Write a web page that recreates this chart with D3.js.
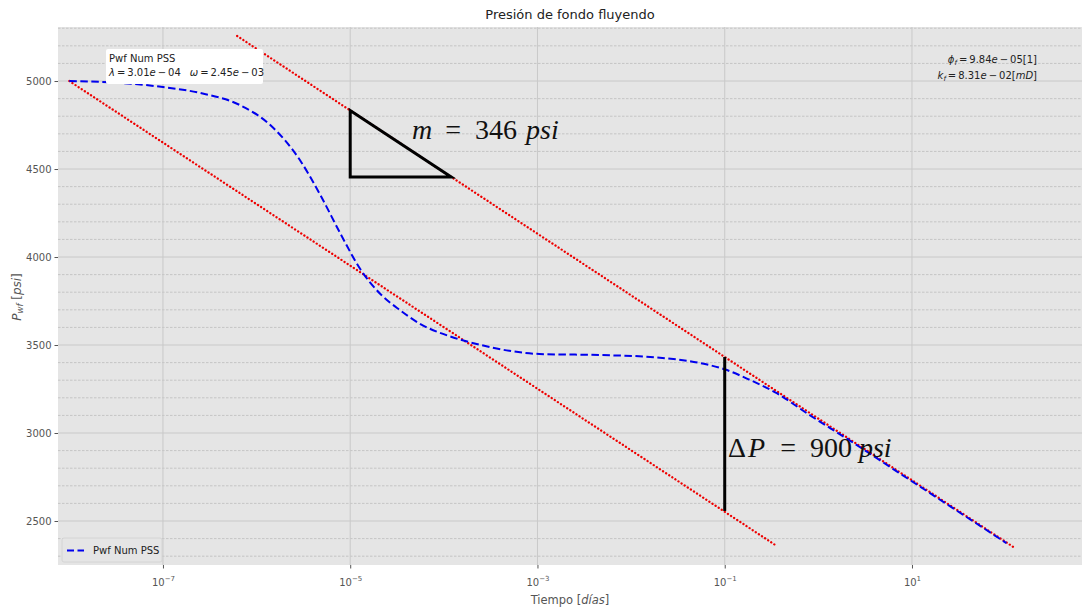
<!DOCTYPE html>
<html><head><meta charset="utf-8">
<script src="https://cdn.jsdelivr.net/npm/d3@7"></script>
<style>body{margin:0;background:#fff}svg{display:block}</style>
</head><body><svg id="c" width="1082" height="612" font-family="DejaVu Sans, sans-serif"></svg>
<script>
// ---- data ----
const timeDays = [1e-8,3.5e-8,1e-7,2.5e-7,6.6e-7,1.4e-6,2.9e-6,4.8e-6,8e-6,1.3e-5,2.1e-5,3.4e-5,5.5e-5,1.15e-4,2.4e-4,5e-4,1.05e-3,4.6e-3,1.6e-2,5.4e-2,1e-1,1.8e-1,3.6e-1,7.9e-1,2.1,7.2,24.5,85,102];
const pwfPsi   = [5000,4989,4966,4932,4864,4750,4551,4352,4125,3926,3790,3698,3622,3550,3502,3467,3449,3443,3432,3398,3362,3305,3226,3105,2962,2775,2590,2402,2374];
const upperLine = {t:[6.2e-7,123], p:[5256,2350]};
const lowerLine = {t:[1e-8,0.36], p:[5000,2358]};
const triangle = {t:[1e-5,1.2e-4], p:[4832,4454]};
const deltaLine = {t:[0.1,0.1], p:[3432,2557]};
const xTicks = [1e-7,1e-5,1e-3,1e-1,1e1];
const xTickExp = ["\u22127","\u22125","\u22123","\u22121","1"];
const yTicks = [2500,3000,3500,4000,4500,5000];
const yMinor = [2300,2400,2600,2700,2800,2900,3100,3200,3300,3400,3600,3700,3800,3900,4100,4200,4300,4400,4600,4700,4800,4900,5100,5200,5300];

const svg = d3.select("#c");
const L=58,R=1082,T=27,B=565;
const x = d3.scaleLog().domain([Math.pow(10,-8.121),Math.pow(10,2.816)]).range([L,R]);
const y = d3.scaleLinear().domain([2250,5307]).range([B,T]);

svg.append("rect").attr("x",L).attr("y",T).attr("width",R-L).attr("height",B-T).attr("fill","#e5e5e5");
svg.append("clipPath").attr("id","pc").append("rect").attr("x",L).attr("y",T).attr("width",R-L).attr("height",B-T);
const g = svg.append("g").attr("clip-path","url(#pc)");

// grid
g.selectAll(".mn").data(yMinor).join("line").attr("x1",L).attr("x2",R).attr("y1",d=>y(d)).attr("y2",d=>y(d))
 .attr("stroke","#bdbdbd").attr("stroke-width",0.8).attr("stroke-dasharray","2.5,1.5");
g.selectAll(".mj").data(yTicks).join("line").attr("x1",L).attr("x2",R).attr("y1",d=>y(d)).attr("y2",d=>y(d))
 .attr("stroke","#c9c9c9").attr("stroke-width",1);
g.selectAll(".vx").data(xTicks).join("line").attr("y1",T).attr("y2",B).attr("x1",d=>x(d)).attr("x2",d=>x(d))
 .attr("stroke","#c9c9c9").attr("stroke-width",1);

// axes
const yAxis = d3.axisLeft(y).tickValues(yTicks).tickSize(3.5).tickPadding(3).tickFormat(d3.format("d"));
const ya = svg.append("g").attr("transform",`translate(${L},0)`).call(yAxis);
ya.attr("font-family",null);
ya.select(".domain").remove();
ya.selectAll("line").attr("stroke","#555");
ya.selectAll("text").attr("font-size",10).attr("fill","#555");

const xAxis = d3.axisBottom(x).tickValues(xTicks).tickSize(3.5).tickFormat("");
const xa = svg.append("g").attr("transform",`translate(0,${B})`).call(xAxis);
xa.attr("font-family",null);
xa.select(".domain").remove();
xa.selectAll("line").attr("stroke","#555");
xa.selectAll(".tick").each(function(d,i){
  const t = d3.select(this).append("text").attr("y",21).attr("text-anchor","middle").attr("fill","#555").attr("font-size",10);
  t.append("tspan").text("10");
  t.append("tspan").attr("dy",-5).attr("font-size",7).text(xTickExp[i]);
});

// red lines
const lineGen = d3.line().x(d=>x(d[0])).y(d=>y(d[1]));
[upperLine,lowerLine].forEach(l=>{
  g.append("path").attr("d",lineGen(l.t.map((t,i)=>[t,l.p[i]]))).attr("fill","none")
   .attr("stroke","#ee0000").attr("stroke-width",2.3).attr("stroke-dasharray","0.1,3.6").attr("stroke-linecap","round");
});

// blue curve
const curve = d3.line().x(d=>x(d[0])).y(d=>y(d[1])).curve(d3.curveMonotoneX);
g.append("path").attr("d",curve(timeDays.map((t,i)=>[t,pwfPsi[i]]))).attr("fill","none")
 .attr("stroke","#0000ee").attr("stroke-width",2).attr("stroke-dasharray","7.5,3.5");

// triangle
const tri = [[triangle.t[0],triangle.p[0]],[triangle.t[0],triangle.p[1]],[triangle.t[1],triangle.p[1]]];
g.append("path").attr("d",lineGen(tri)+"Z").attr("fill","none").attr("stroke","#000").attr("stroke-width",3);
g.append("path").attr("d",lineGen(deltaLine.t.map((t,i)=>[t,deltaLine.p[i]]))).attr("stroke","#000").attr("stroke-width",3);

// big math labels: parts = [text, italic, dx]
function mathText(xp,yp,parts,size){
  const t=svg.append("text").attr("x",xp).attr("y",yp).attr("font-size",size).attr("font-family","Liberation Serif, DejaVu Serif, serif").attr("fill","#111");
  parts.forEach(p=>t.append("tspan").attr("font-style",p[1]?"italic":"normal").attr("dx",p[2]).text(p[0]));
}
mathText(412,139,[["m",1,0],["=",0,13],["346",0,14],["psi",1,9]],28);
mathText(728,457,[["\u0394",0,0],["P",1,2],["=",0,15],["900",0,14],["psi",1,7]],28);

// info box
svg.append("rect").attr("x",106).attr("y",49).attr("width",157).attr("height",35).attr("rx",2).attr("fill","#fff");
svg.append("text").attr("x",109).attr("y",62).attr("font-size",10).attr("fill","#222").text("Pwf Num PSS");
const lt = svg.append("text").attr("x",109).attr("y",76).attr("font-size",10).attr("fill","#222");
lt.append("tspan").attr("font-style","italic").text("\u03bb");
lt.append("tspan").text("\u2009=\u20093.01");
lt.append("tspan").attr("font-style","italic").text("e");
lt.append("tspan").text("\u2009\u2212\u200904");
lt.append("tspan").attr("font-style","italic").attr("dx",9).text("\u03c9");
lt.append("tspan").text("\u2009=\u20092.45");
lt.append("tspan").attr("font-style","italic").text("e");
lt.append("tspan").text("\u2009\u2212\u200903");

// top-right params
const p1 = svg.append("text").attr("x",1037).attr("y",63).attr("text-anchor","end").attr("font-size",10).attr("fill","#222");
p1.append("tspan").attr("font-style","italic").text("\u03d5");
p1.append("tspan").attr("font-style","italic").attr("font-size",7).attr("dy",2).text("f");
p1.append("tspan").attr("dy",-2).text("\u2009=\u20099.84");
p1.append("tspan").attr("font-style","italic").text("e");
p1.append("tspan").text("\u2009\u2212\u200905[1]");
const p2 = svg.append("text").attr("x",1037).attr("y",79).attr("text-anchor","end").attr("font-size",10).attr("fill","#222");
p2.append("tspan").attr("font-style","italic").text("k");
p2.append("tspan").attr("font-style","italic").attr("font-size",7).attr("dy",2).text("f");
p2.append("tspan").attr("dy",-2).text("\u2009=\u20098.31");
p2.append("tspan").attr("font-style","italic").text("e");
p2.append("tspan").text("\u2009\u2212\u200902[");
p2.append("tspan").attr("font-style","italic").text("mD");
p2.append("tspan").text("]");

// legend
svg.append("rect").attr("x",62).attr("y",538).attr("width",100).attr("height",24).attr("rx",2)
 .attr("fill","#e5e5e5").attr("stroke","#d0d0d0").attr("stroke-width",0.8);
svg.append("line").attr("x1",67).attr("x2",84).attr("y1",550.5).attr("y2",550.5).attr("stroke","#0000ee").attr("stroke-width",2).attr("stroke-dasharray","7,3.5");
svg.append("text").attr("x",93).attr("y",554).attr("font-size",10).attr("fill","#222").text("Pwf Num PSS");

// titles
svg.append("text").attr("x",570).attr("y",19).attr("text-anchor","middle").attr("font-size",13).attr("fill","#222").text("Presión de fondo fluyendo");
const xl = svg.append("text").attr("x",570).attr("y",604).attr("text-anchor","middle").attr("font-size",11.5).attr("fill","#555");
xl.append("tspan").text("Tiempo [");
xl.append("tspan").attr("font-style","italic").text("días");
xl.append("tspan").text("]");
const yl = svg.append("text").attr("transform","translate(21,297) rotate(-90)").attr("text-anchor","middle").attr("font-size",12).attr("fill","#555");
yl.append("tspan").attr("font-style","italic").text("P");
yl.append("tspan").attr("font-style","italic").attr("font-size",8.5).attr("dy",2).text("wf");
yl.append("tspan").attr("dy",-2).text(" [");
yl.append("tspan").attr("font-style","italic").text("psi");
yl.append("tspan").text("]");
</script></body></html>
